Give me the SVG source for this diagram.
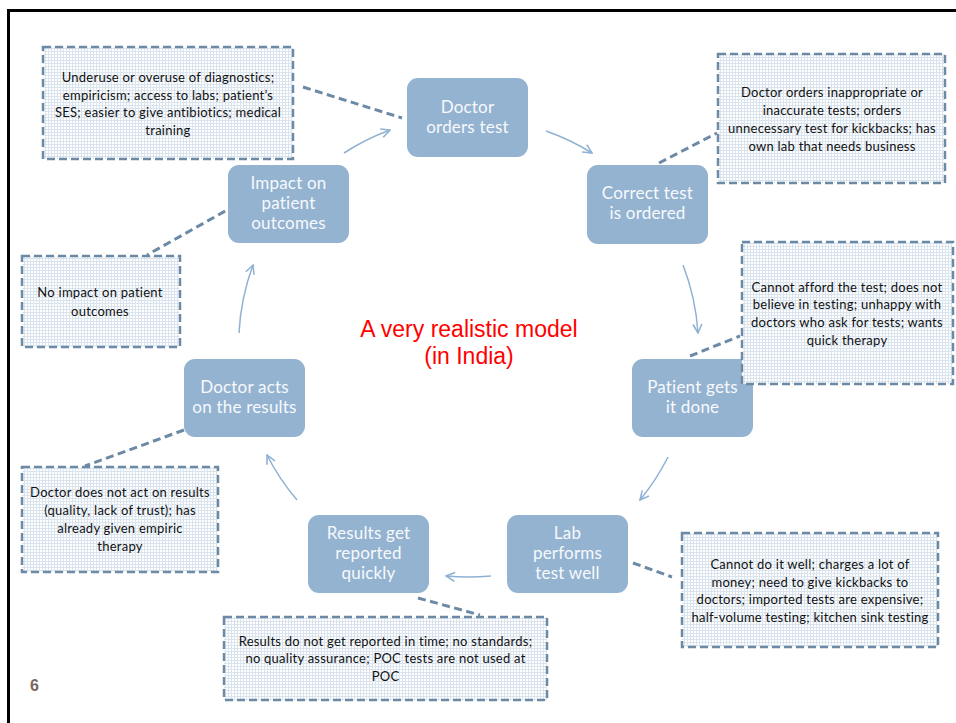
<svg xmlns="http://www.w3.org/2000/svg" width="956" height="723" viewBox="0 0 956 723">
<style>
.node rect{fill:#94b3d1;}
.node text{font-family:Lato,"Noto Sans","Liberation Sans",sans-serif;font-size:17px;fill:#f7f9fc;text-anchor:middle;letter-spacing:0.2px;}
.note rect{fill:url(#mesh);stroke:#6c8aa5;stroke-width:2.5;stroke-dasharray:8 4;}
.note text{font-family:Lato,"Noto Sans","Liberation Sans",sans-serif;font-size:13px;fill:#111;text-anchor:middle;letter-spacing:0.25px;}
.arc{fill:none;stroke:#8fb1d3;stroke-width:1.5;marker-end:url(#open);}
.lead{fill:none;stroke:#6c8aa5;stroke-width:3;stroke-dasharray:8 4.5;}
.title{font-family:"Liberation Sans",Arial,sans-serif;font-size:23px;fill:#ff0000;text-anchor:middle;}
</style>
<defs>
<pattern id="mesh" width="3" height="3" patternUnits="userSpaceOnUse">
<rect width="3" height="3" fill="#ffffff"/>
<rect width="3" height="1" fill="#dae4ef"/>
<rect width="1" height="3" fill="#dae4ef"/>
</pattern>
<marker id="open" viewBox="0 0 10 10" refX="9" refY="5" markerWidth="11" markerHeight="11" markerUnits="userSpaceOnUse" orient="auto">
<path d="M1,1 L9,5 L1,9" fill="none" stroke="#8fb1d3" stroke-width="1.4"/>
</marker>
</defs>
<rect x="0" y="0" width="956" height="723" fill="#ffffff"/>
<rect x="8.5" y="10.5" width="960" height="730" fill="none" stroke="#000" stroke-width="3"/>

<g id="connectors">
<path class="arc" d="M344,153 A230,230 0 0 1 390,130"/>
<path class="arc" d="M546,131 A230,230 0 0 1 592,153"/>
<path class="arc" d="M683,265 A230,230 0 0 1 698,333"/>
<path class="arc" d="M668,457 A230,230 0 0 1 640,500"/>
<path class="arc" d="M491,576 A230,230 0 0 1 446,576"/>
<path class="arc" d="M297,500 A230,230 0 0 1 267,455"/>
<path class="arc" d="M239,333 A230,230 0 0 1 253,265"/>
<path class="lead" d="M303,87 L402,118"/>
<path class="lead" d="M659,163 L717,133"/>
<path class="lead" d="M690,356 L740,336"/>
<path class="lead" d="M633,563 L672,577"/>
<path class="lead" d="M418,598 L480,615"/>
<path class="lead" d="M184,430 L85,466"/>
<path class="lead" d="M236,205 L147,255"/>
</g>

<g id="n-doctor-orders" class="node">
<rect x="407" y="78" width="121" height="79" rx="11"/>
<text x="467.5" y="113">Doctor</text>
<text x="467.5" y="132.5">orders test</text>
</g>
<g id="n-correct-test" class="node">
<rect x="587" y="165" width="121" height="79" rx="11"/>
<text x="647.5" y="199">Correct test</text>
<text x="647.5" y="219">is ordered</text>
</g>
<g id="n-patient" class="node">
<rect x="632" y="359" width="121" height="78" rx="11"/>
<text x="692.5" y="393">Patient gets</text>
<text x="692.5" y="413">it done</text>
</g>
<g id="n-lab" class="node">
<rect x="507" y="515" width="121" height="78" rx="11"/>
<text x="567.5" y="539">Lab</text>
<text x="567.5" y="559">performs</text>
<text x="567.5" y="579">test well</text>
</g>
<g id="n-results" class="node">
<rect x="308" y="515" width="121" height="78" rx="11"/>
<text x="368.5" y="539">Results get</text>
<text x="368.5" y="559">reported</text>
<text x="368.5" y="579">quickly</text>
</g>
<g id="n-doctor-acts" class="node">
<rect x="184" y="359" width="121" height="78" rx="11"/>
<text x="244.5" y="393">Doctor acts</text>
<text x="244.5" y="413">on the results</text>
</g>
<g id="n-impact" class="node">
<rect x="228" y="165" width="121" height="78" rx="11"/>
<text x="288.5" y="189">Impact on</text>
<text x="288.5" y="209">patient</text>
<text x="288.5" y="229">outcomes</text>
</g>

<g id="c-underuse" class="note">
<rect x="43" y="47" width="250" height="112"/>
<text x="168" y="82">Underuse or overuse of diagnostics;</text>
<text x="168" y="100">empiricism; access to labs; patient’s</text>
<text x="168" y="117">SES; easier to give antibiotics; medical</text>
<text x="168" y="135">training</text>
</g>
<g id="c-inappropriate" class="note">
<rect x="718" y="54" width="227" height="129"/>
<text x="832" y="97">Doctor orders inappropriate or</text>
<text x="832" y="115">inaccurate tests; orders</text>
<text x="832" y="133">unnecessary test for kickbacks; has</text>
<text x="832" y="151">own lab that needs business</text>
</g>
<g id="c-afford" class="note">
<rect x="742" y="242" width="211" height="142"/>
<text x="847" y="292">Cannot afford the test; does not</text>
<text x="847" y="309">believe in testing; unhappy with</text>
<text x="847" y="327">doctors who ask for tests; wants</text>
<text x="847" y="345">quick therapy</text>
</g>
<g id="c-no-impact" class="note">
<rect x="22" y="256" width="158" height="91"/>
<text x="100" y="297">No impact on patient</text>
<text x="100" y="316">outcomes</text>
</g>
<g id="c-not-act" class="note">
<rect x="22" y="467" width="196" height="105"/>
<text x="120" y="497">Doctor does not act on results</text>
<text x="120" y="515">(quality, lack of trust); has</text>
<text x="120" y="533">already given empiric</text>
<text x="120" y="551">therapy</text>
</g>
<g id="c-not-reported" class="note">
<rect x="224" y="617" width="323" height="83"/>
<text x="385.5" y="646">Results do not get reported in time; no standards;</text>
<text x="385.5" y="663">no quality assurance; POC tests are not used at</text>
<text x="385.5" y="681">POC</text>
</g>
<g id="c-lab-problems" class="note">
<rect x="682" y="533" width="256" height="114"/>
<text x="810" y="569">Cannot do it well; charges a lot of</text>
<text x="810" y="587">money; need to give kickbacks to</text>
<text x="810" y="604">doctors; imported tests are expensive;</text>
<text x="810" y="622">half-volume testing; kitchen sink testing</text>
</g>

<text class="title" x="469" y="337">A very realistic model</text>
<text class="title" x="469" y="364">(in India)</text>
<text x="30" y="691" font-family="'Liberation Sans',Arial,sans-serif" font-size="16" font-weight="bold" fill="#7b665c">6</text>
</svg>
